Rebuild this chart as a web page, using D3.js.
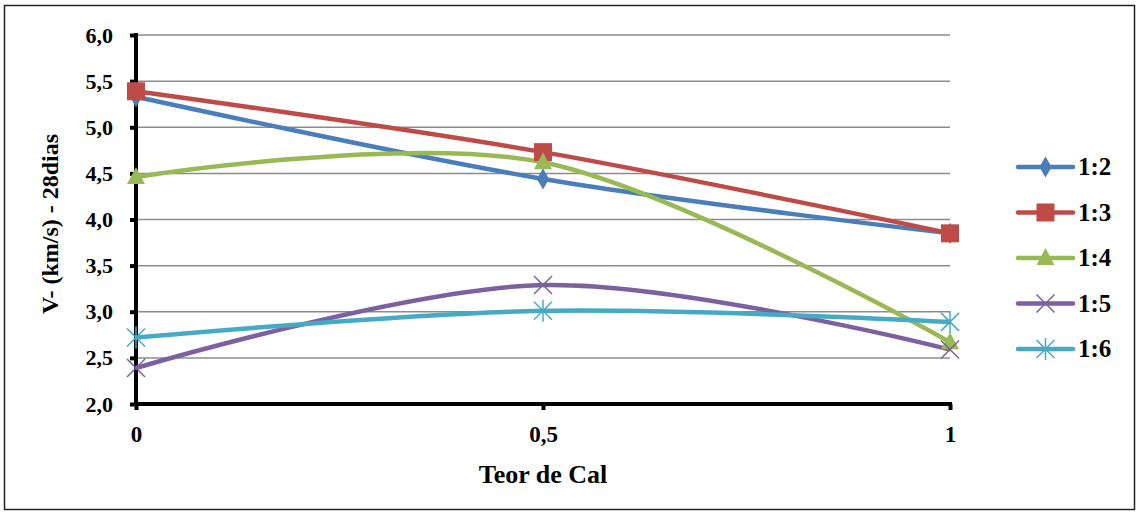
<!DOCTYPE html>
<html>
<head>
<meta charset="utf-8">
<script src="https://cdn.jsdelivr.net/npm/d3@7"></script>
<style>
  body { margin: 0; background: #fff; }
</style>
</head>
<body>
<div id="chart"></div>
<script>
// data
var teor = [0, 0.5, 1];
var seriesNames = ["1:2", "1:3", "1:4", "1:5", "1:6"];
var v12 = [5.33, 4.44, 3.85];
var v13 = [5.39, 4.73, 3.85];
var v14 = [4.46, 4.62, 2.67];
var v15 = [2.39, 3.29, 2.59];
var v16 = [2.72, 3.01, 2.89];
var yTicks = [2.0, 2.5, 3.0, 3.5, 4.0, 4.5, 5.0, 5.5, 6.0];
var xTicks = [0, 0.5, 1];

var colors = ["#4a7ebb", "#be4b48", "#98b954", "#7d60a0", "#46aac5"];
var symbols = ["diamond", "square", "triangle", "x", "asterisk"];
var values = [v12, v13, v14, v15, v16];

var FONT = "'Liberation Serif', 'Times New Roman', serif";

var W = 1139, H = 512;
var margin = {top: 35, right: 189, bottom: 108, left: 136};
var width = W - margin.left - margin.right,
    height = H - margin.top - margin.bottom;

var svg = d3.select("#chart")
  .append("svg")
    .attr("width", W)
    .attr("height", H);

// outer border
svg.append("rect")
  .attr("x", 4.5).attr("y", 5.5)
  .attr("width", 1130).attr("height", 504)
  .style("fill", "none")
  .style("stroke", "#222")
  .style("stroke-width", 1.5);

var g = svg.append("g")
  .attr("transform", "translate(" + margin.left + "," + margin.top + ")");

var x = d3.scaleLinear().domain([0, 1]).range([0, width]);
var y = d3.scaleLinear().domain([2, 6]).range([height, 0]);

function bold(sel, size) {
  sel.style("font-family", FONT)
    .style("font-weight", "bold")
    .style("font-size", size + "px")
    .style("fill", "#000");
}

// gridlines
g.selectAll(".grid")
  .data(yTicks.slice(1))
  .enter().append("line")
    .attr("x1", 0).attr("x2", width)
    .attr("y1", d => y(d)).attr("y2", d => y(d))
    .style("stroke", "#8c8c8c")
    .style("stroke-width", 1.5);

// y axis
var yAxis = g.append("g")
  .call(d3.axisLeft(y).tickValues(yTicks).tickSize(6).tickPadding(17)
    .tickFormat(d => d3.format(".1f")(d).replace(".", ",")));
yAxis.attr("font-family", null);
yAxis.select(".domain").remove();
yAxis.selectAll(".tick line").style("stroke", "#000").style("stroke-width", 4);
bold(yAxis.selectAll("text"), 22);
g.append("line")
  .attr("x1", 0).attr("x2", 0).attr("y1", -2).attr("y2", height + 2)
  .style("stroke", "#000").style("stroke-width", 4);

// x axis
var xAxis = g.append("g")
  .attr("transform", "translate(0," + height + ")")
  .call(d3.axisBottom(x).tickValues(xTicks).tickSize(6).tickPadding(16)
    .tickFormat(d => String(d).replace(".", ",")));
xAxis.attr("font-family", null);
xAxis.select(".domain").remove();
xAxis.selectAll(".tick line").style("stroke", "#000").style("stroke-width", 4);
bold(xAxis.selectAll("text"), 23);
g.append("line")
  .attr("x1", -2).attr("x2", width + 2).attr("y1", height).attr("y2", height)
  .style("stroke", "#000").style("stroke-width", 4);

// axis titles
svg.append("text")
  .attr("x", margin.left + x(0.5))
  .attr("y", 483)
  .attr("text-anchor", "middle")
  .call(bold, 26)
  .text("Teor de Cal");

svg.append("text")
  .attr("transform", "translate(58,224) rotate(-90)")
  .attr("text-anchor", "middle")
  .call(bold, 24)
  .text("V- (km/s) - 28dias");

// markers
function drawMarker(sel, type, color) {
  if (type === "diamond") {
    sel.append("path").attr("d", d3.symbol(d3.symbolDiamond, 130)()).style("fill", color);
  } else if (type === "square") {
    sel.append("rect").attr("x", -9).attr("y", -9).attr("width", 18).attr("height", 18).style("fill", color);
  } else if (type === "triangle") {
    sel.append("path").attr("d", "M0,-10L9,7L-9,7Z").style("fill", color);
  } else if (type === "x") {
    sel.append("path").attr("d", "M-9,-9L9,9M-9,9L9,-9")
      .style("stroke", color).style("stroke-width", 1.5).style("fill", "none");
  } else {
    sel.append("path").attr("d", "M-9,-9L9,9M-9,9L9,-9M0,-11L0,11")
      .style("stroke", color).style("stroke-width", 1.5).style("fill", "none");
  }
}

var line = d3.line()
  .x((d, i) => x(teor[i]))
  .y(d => y(d))
  .curve(d3.curveCardinal.tension(0));

values.forEach(function(vals, s) {
  g.append("path")
    .datum(vals)
    .attr("d", line)
    .style("fill", "none")
    .style("stroke", colors[s])
    .style("stroke-width", 4.5);
});

values.forEach(function(vals, s) {
  vals.forEach(function(v, i) {
    var m = g.append("g").attr("transform", "translate(" + x(teor[i]) + "," + y(v) + ")");
    drawMarker(m, symbols[s], colors[s]);
  });
});

// legend
var legend = svg.append("g").attr("transform", "translate(1018,167)");
seriesNames.forEach(function(name, s) {
  var row = legend.append("g").attr("transform", "translate(0," + (s * 45.5) + ")");
  row.append("line")
    .attr("x1", 0).attr("x2", 55)
    .style("stroke", colors[s]).style("stroke-width", 4.5)
    .style("stroke-linecap", "round");
  var m = row.append("g").attr("transform", "translate(27.5,0)");
  drawMarker(m, symbols[s], colors[s]);
  row.append("text")
    .attr("x", 60).attr("y", 8)
    .call(bold, 25)
    .text(name);
});
</script>
</body>
</html>
